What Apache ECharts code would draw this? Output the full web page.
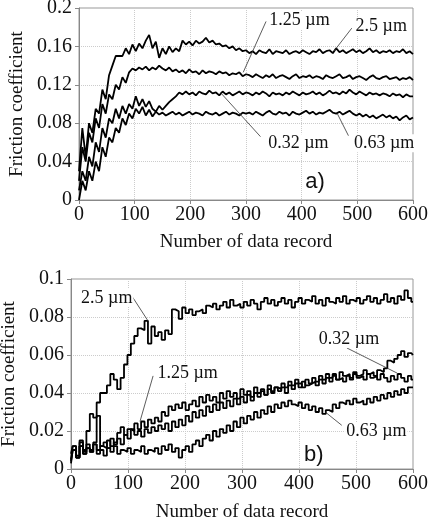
<!DOCTYPE html>
<html>
<head>
<meta charset="utf-8">
<script src="https://cdn.jsdelivr.net/npm/echarts@6/dist/echarts.min.js"></script>
<style>
  html, body { margin: 0; padding: 0; background: #fff; }
  #chart { width: 430px; height: 524px; }
</style>
</head>
<body>
<div id="chart"></div>
<script>
// data record index (every 6th record)
const records = [0,6,12,18,24,30,36,42,48,54,60,66,72,78,84,90,96,102,108,114,120,126,132,138,144,150,156,162,168,174,180,186,192,198,204,210,216,222,228,234,240,246,252,258,264,270,276,282,288,294,300,306,312,318,324,330,336,342,348,354,360,366,372,378,384,390,396,402,408,414,420,426,432,438,444,450,456,462,468,474,480,486,492,498,504,510,516,522,528,534,540,546,552,558,564,570,576,582,588,594,600];

// a) friction coefficient
const a_25 = [0.03,0.075,0.045,0.08,0.07,0.095,0.09,0.115,0.105,0.13,0.14,0.15,0.15,0.15,0.158,0.152,0.162,0.155,0.163,0.158,0.166,0.172,0.158,0.165,0.148,0.158,0.152,0.16,0.154,0.158,0.155,0.166,0.162,0.165,0.161,0.166,0.163,0.165,0.169,0.164,0.166,0.162,0.163,0.16,0.161,0.158,0.16,0.156,0.158,0.155,0.156,
  0.153,0.155,0.152,0.156,0.154,0.153,0.157,0.152,0.155,0.154,
  0.153,0.156,0.152,0.154,0.155,0.153,0.156,0.154,0.152,0.155,
  0.154,0.157,0.153,0.155,0.156,0.153,0.158,0.154,0.156,0.153,
  0.155,0.157,0.154,0.156,0.153,0.155,0.158,0.154,0.156,0.153,
  0.155,0.154,0.156,0.153,0.155,0.154,0.157,0.153,0.155,0.152];
const a_125 = [0.02,0.055,0.04,0.07,0.06,0.085,0.075,0.1,0.09,0.11,0.105,0.12,0.115,0.128,0.122,0.133,0.137,0.135,0.138,0.136,0.139,0.135,0.138,0.136,0.14,0.137,0.135,0.138,0.134,0.136,0.133,
  0.135,0.132,0.136,0.133,0.134,0.131,0.135,0.132,0.134,0.133,
  0.131,0.134,0.132,0.133,0.13,0.132,0.131,0.133,0.129,0.131,
  0.13,0.128,0.131,0.129,0.127,0.13,0.128,0.131,0.127,0.129,
  0.13,0.128,0.126,0.129,0.131,0.127,0.129,0.128,0.13,0.127,
  0.129,0.128,0.126,0.13,0.128,0.127,0.129,0.131,0.127,0.128,
  0.13,0.126,0.128,0.129,0.127,0.125,0.128,0.13,0.127,0.126,
  0.128,0.129,0.126,0.127,0.128,0.125,0.127,0.126,0.128,0.125];
const a_032 = [0.01,0.03,0.02,0.045,0.035,0.06,0.05,0.075,0.065,0.085,0.08,0.095,0.085,0.098,0.09,0.1,0.095,0.108,0.098,0.105,0.097,0.103,0.095,0.092,0.098,0.094,0.098,0.102,0.105,0.108,0.112,0.11,0.113,
  0.11,0.112,0.109,0.113,0.111,0.11,0.114,0.111,0.112,0.109,0.113,0.11,0.112,0.109,0.111,0.113,0.11,0.112,
  0.111,0.109,0.112,0.11,0.113,0.111,0.108,0.112,0.11,0.111,
  0.109,0.112,0.11,0.113,0.111,0.109,0.112,0.11,0.111,0.113,
  0.11,0.112,0.109,0.111,0.114,0.111,0.112,0.11,0.113,0.111,
  0.115,0.112,0.11,0.113,0.111,0.109,0.112,0.11,0.111,0.109,
  0.111,0.11,0.108,0.111,0.109,0.11,0.107,0.11,0.108,0.108];
const a_063 = [0.0,0.02,0.01,0.03,0.02,0.04,0.03,0.055,0.045,0.065,0.06,0.075,0.07,0.085,0.078,0.09,0.085,0.095,0.09,0.097,0.088,0.094,0.087,0.092,0.089,
  0.091,0.088,0.09,0.092,0.089,0.091,0.088,0.09,0.092,0.089,
  0.091,0.09,0.088,0.092,0.09,0.089,0.091,0.088,0.09,0.092,
  0.089,0.091,0.09,0.088,0.091,0.09,
  0.091,0.089,0.092,0.09,0.088,0.091,0.093,0.09,0.089,0.092,
  0.09,0.091,0.088,0.092,0.09,0.089,0.091,0.093,0.09,0.092,
  0.089,0.091,0.09,0.092,0.094,0.091,0.09,0.092,0.089,0.091,
  0.093,0.09,0.088,0.09,0.087,0.089,0.086,0.088,0.085,0.087,
  0.089,0.086,0.088,0.085,0.087,0.083,0.086,0.088,0.084,0.086];

// b) friction coefficient
const b_25 = [0.005,0.012,0.006,0.014,0.01,0.02,0.029,0.027,0.035,0.04,0.04,0.044,0.05,0.047,0.042,0.048,0.055,0.06,0.066,0.07,0.074,0.073,0.078,0.066,0.075,0.07,0.072,0.068,0.073,0.071,0.084,0.083,0.079,0.085,0.082,0.084,0.081,0.083,0.084,0.082,0.086,
  0.085,0.087,0.084,0.086,0.088,0.085,0.089,0.086,0.087,0.085,
  0.088,0.086,0.089,0.087,0.084,0.088,0.09,0.087,0.089,0.086,
  0.088,0.09,0.087,0.089,0.085,0.088,0.09,0.087,0.089,0.088,
  0.091,0.087,0.089,0.086,0.09,0.088,0.087,0.09,0.088,0.091,
  0.087,0.089,0.088,0.09,0.087,0.089,0.091,0.088,0.09,0.087,
  0.089,0.092,0.088,0.09,0.087,0.091,0.089,0.094,0.09,0.088];
const b_125 = [0.008,0.012,0.006,0.015,0.009,0.013,0.01,0.014,0.028,0.012,0.014,0.011,0.016,0.013,0.019,0.022,0.018,0.021,0.02,0.024,0.021,0.025,0.022,0.026,0.024,0.027,0.025,0.03,0.028,0.033,0.031,0.034,0.032,0.035,0.031,0.034,0.036,0.033,0.038,0.035,0.039,
  0.036,0.038,0.035,0.04,0.037,0.041,0.038,0.04,0.037,0.042,
  0.039,0.041,0.038,0.043,0.04,0.042,0.039,0.044,0.041,0.043,
  0.042,0.045,0.043,0.046,0.044,0.047,0.045,0.043,0.047,0.045,
  0.048,0.046,0.049,0.047,0.05,0.048,0.05,0.047,0.051,0.049,
  0.05,0.048,0.051,0.049,0.05,0.052,0.05,0.051,0.049,0.052,
  0.051,0.053,0.057,0.056,0.058,0.06,0.062,0.059,0.061,0.06];
const b_032 = [0.004,0.01,0.007,0.012,0.008,0.011,0.009,0.013,0.01,0.012,0.011,0.015,0.012,0.014,0.016,0.013,0.018,0.016,0.021,0.018,0.02,0.017,0.021,0.019,0.022,0.02,0.023,0.021,0.024,0.02,0.025,0.022,0.026,0.023,0.028,0.025,0.03,0.027,0.031,0.028,0.033,
  0.03,0.034,0.031,0.035,0.032,0.036,0.033,0.037,0.034,0.038,
  0.035,0.039,0.036,0.04,0.038,0.041,0.039,0.042,0.04,0.043,
  0.041,0.043,0.04,0.044,0.042,0.045,0.043,0.046,0.044,0.045,
  0.046,0.044,0.047,0.045,0.048,0.046,0.049,0.047,0.048,0.046,
  0.049,0.047,0.05,0.048,0.049,0.047,0.05,0.048,0.049,0.047,
  0.05,0.048,0.046,0.049,0.047,0.05,0.048,0.046,0.049,0.047];
const b_063 = [0.003,0.01,0.006,0.012,0.008,0.011,0.009,0.013,0.008,0.01,
  0.007,0.011,0.009,0.012,0.008,0.01,0.009,0.011,0.008,0.01,
  0.009,0.012,0.008,0.01,0.009,0.011,0.008,0.012,0.01,0.013,
  0.009,0.011,0.006,0.01,
  0.012,0.009,0.013,0.015,0.012,0.016,0.018,0.015,0.02,0.017,0.021,0.019,0.023,0.02,0.025,0.022,0.027,
  0.024,0.028,0.026,0.03,0.027,0.031,0.029,0.033,0.03,0.034,
  0.032,0.035,0.033,0.036,0.034,0.033,0.035,0.032,0.034,0.031,
  0.033,0.03,0.032,0.029,0.031,0.03,0.034,0.032,0.035,0.034,
  0.036,0.034,0.037,0.035,0.036,0.034,0.037,0.035,0.038,0.036,
  0.039,0.037,0.04,0.038,0.041,0.039,0.042,0.04,0.043,0.043];

// labels: text anchor, pointer start, pointer end (data coords)
const notesA = [
  {text: '1.25 µm', at: [340, 0.1875], from: [336, 0.186], to: [295, 0.133]},
  {text: '2.5 µm', at: [495, 0.1805], from: [490, 0.179], to: [458, 0.155]},
  {text: '0.32 µm', at: [338, 0.059], from: [326, 0.066], to: [254, 0.112]},
  {text: '0.63 µm', at: [492, 0.059], from: [484, 0.067], to: [464, 0.09]}
];
const notesB = [
  {text: '2.5 µm', at: [16, 0.090], from: [108, 0.0905], to: [135, 0.078]},
  {text: '1.25 µm', at: [150, 0.0505], from: [144, 0.049], to: [121, 0.025]},
  {text: '0.32 µm', at: [433, 0.0684], from: [484, 0.0637], to: [572, 0.0505]},
  {text: '0.63 µm', at: [481, 0.020], from: [475, 0.023], to: [446, 0.030]}
];
const panelA = {text: 'a)', at: [424, 0.019]};
const panelB = {text: 'b)', at: [426, 0.0074]};

function pairs(ys) {
  let out = [];
  for (let i = 0; i < ys.length && i < records.length; i++) {
    out.push([records[i], ys[i]]);
  }
  return out;
}

const serif = 'Liberation Serif';

function xAx(gi, gap) {
  return {
    type: 'value', gridIndex: gi, min: 0, max: 600, interval: 100,
    name: 'Number of data record', nameLocation: 'middle', nameGap: gap,
    nameTextStyle: {fontFamily: serif, fontSize: 19, color: '#111'},
    axisLine: {lineStyle: {color: '#888'}},
    axisTick: {show: true, inside: false, length: 4, lineStyle: {color: '#888'}},
    axisLabel: {fontFamily: serif, fontSize: 20, color: '#111', margin: 5},
    splitLine: {show: true, lineStyle: {color: '#ccc', type: 'dotted'}}
  };
}
function yAx(gi, max, step, gap) {
  return {
    type: 'value', gridIndex: gi, min: 0, max: max, interval: step,
    name: 'Friction coefficient', nameLocation: 'middle', nameGap: gap,
    nameTextStyle: {fontFamily: serif, fontSize: 19, color: '#111'},
    axisLine: {show: true, lineStyle: {color: '#888'}},
    axisTick: {show: true, inside: false, length: 4, lineStyle: {color: '#888'}},
    axisLabel: {fontFamily: serif, fontSize: 20, color: '#111', margin: 7,
      formatter: function (v) { return String(+v.toFixed(2)); }},
    splitLine: {show: true, lineStyle: {color: '#ccc', type: 'dotted'}}
  };
}
function line(name, gi, ys, step) {
  return {
    name: name, type: 'line', xAxisIndex: gi, yAxisIndex: gi,
    data: pairs(ys), showSymbol: false, symbol: 'none', step: step,
    lineStyle: {color: '#000', width: 1.8}, animation: false, z: 3
  };
}

let chart = echarts.init(document.getElementById('chart'), null, {renderer: 'canvas'});
let option = {
  backgroundColor: '#fff',
  animation: false,
  textStyle: {fontFamily: serif},
  grid: [
    {left: 79, right: 17, top: 8, height: 192, show: true, borderColor: '#999', borderWidth: 1,
      containLabel: false, outerBoundsMode: 'none'},
    {left: 71, right: 17, top: 279, height: 190, show: true, borderColor: '#999', borderWidth: 1,
      containLabel: false, outerBoundsMode: 'none'}
  ],
  xAxis: [xAx(0, 33), xAx(1, 34)],
  yAxis: [yAx(0, 0.2, 0.04, 49), yAx(1, 0.1, 0.02, 46)],
  series: [
    line('2.5 µm', 0, a_25, false),
    line('1.25 µm', 0, a_125, false),
    line('0.32 µm', 0, a_032, false),
    line('0.63 µm', 0, a_063, false),
    line('2.5 µm', 1, b_25, 'middle'),
    line('1.25 µm', 1, b_125, 'middle'),
    line('0.32 µm', 1, b_032, 'middle'),
    line('0.63 µm', 1, b_063, 'middle')
  ]
};
chart.setOption(option);

// annotations placed from data coordinates
let els = [];
function addNotes(notes, panel, gi) {
  notes.forEach(function (n) {
    let p = chart.convertToPixel({gridIndex: gi}, n.at);
    let a = chart.convertToPixel({gridIndex: gi}, n.from);
    let b = chart.convertToPixel({gridIndex: gi}, n.to);
    els.push({type: 'line', z: 10, shape: {x1: a[0], y1: a[1], x2: b[0], y2: b[1]},
      style: {stroke: '#333', lineWidth: 0.8}});
    els.push({type: 'text', z: 11, x: p[0], y: p[1],
      style: {text: n.text, fill: '#111', font: '18px "Liberation Serif"',
        textAlign: 'left', textVerticalAlign: 'middle', backgroundColor: '#fff', padding: [0, 1]}});
  });
  let q = chart.convertToPixel({gridIndex: gi}, panel.at);
  els.push({type: 'text', z: 11, x: q[0], y: q[1],
    style: {text: panel.text, fill: '#111', font: '22px "Liberation Sans"',
      textAlign: 'center', textVerticalAlign: 'middle'}});
}
addNotes(notesA, panelA, 0);
addNotes(notesB, panelB, 1);
chart.setOption({graphic: els});
window.onresize = chart.resize;
</script>
</body>
</html>
